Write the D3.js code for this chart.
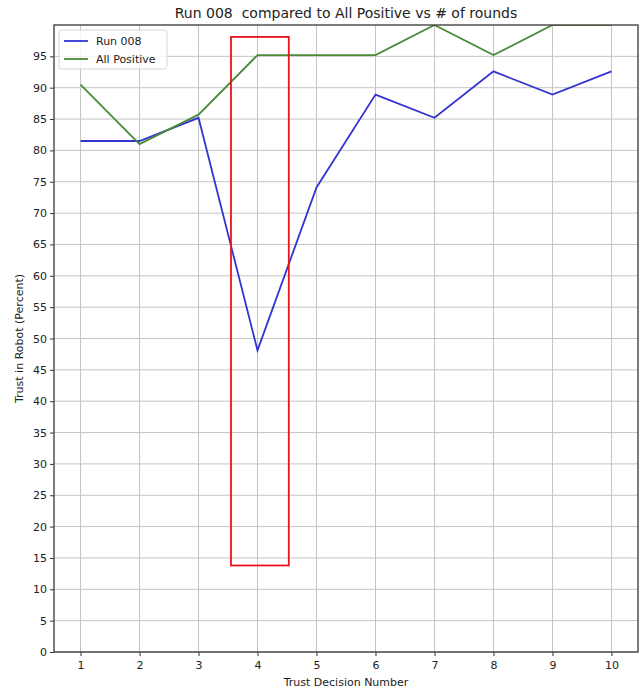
<!DOCTYPE html>
<html>
<head>
<meta charset="utf-8">
<script src="https://cdn.jsdelivr.net/npm/d3@7"></script>
<style>
  body { margin: 0; background: #fff; }
  text { font-family: "DejaVu Sans", sans-serif; fill: #222; }
</style>
</head>
<body>
<div id="container"></div>
<script>
// data
const rounds = [1, 2, 3, 4, 5, 6, 7, 8, 9, 10];
const run008 = [81.5, 81.5, 85.2, 48.1, 74.1, 88.9, 85.2, 92.6, 88.9, 92.6];
const allPositive = [90.5, 81.0, 85.7, 95.2, 95.2, 95.2, 100, 95.2, 100, 100];
const yTicks = d3.range(0, 100, 5);
// highlighted region [x0, x1, y0, y1]
const highlight = [3.55, 4.53, 13.8, 98.1];

const width = 641, height = 692;
const marginTop = 25, marginRight = 3, marginBottom = 40, marginLeft = 54;

const x = d3.scaleLinear().domain([0.55, 10.45]).range([marginLeft, width - marginRight]);
const y = d3.scaleLinear().domain([0, 100]).range([height - marginBottom, marginTop]);

const svg = d3.create("svg")
    .attr("width", width)
    .attr("height", height)
    .attr("viewBox", [0, 0, width, height]);

// grid
svg.append("g")
  .selectAll("line")
  .data(rounds)
  .join("line")
    .attr("x1", d => x(d)).attr("x2", d => x(d))
    .attr("y1", marginTop).attr("y2", height - marginBottom)
    .attr("stroke", "#c4c4c4").attr("stroke-width", 1);

svg.append("g")
  .selectAll("line")
  .data(yTicks)
  .join("line")
    .attr("x1", marginLeft).attr("x2", width - marginRight)
    .attr("y1", d => y(d)).attr("y2", d => y(d))
    .attr("stroke", "#c4c4c4").attr("stroke-width", 1);

// axes
const xAxis = svg.append("g")
    .attr("transform", `translate(0,${height - marginBottom})`)
    .call(d3.axisBottom(x).tickValues(rounds).tickFormat(d3.format("d")).tickSize(4).tickSizeOuter(0));
const yAxis = svg.append("g")
    .attr("transform", `translate(${marginLeft},0)`)
    .call(d3.axisLeft(y).tickValues(yTicks).tickSize(4).tickSizeOuter(0));
[xAxis, yAxis].forEach(g => {
  g.select(".domain").remove();
  g.selectAll("line").attr("stroke", "#333");
  g.selectAll("text").attr("font-size", 11).attr("fill", "#222")
    .attr("font-family", "DejaVu Sans, sans-serif");
});
xAxis.selectAll("text").attr("dy", "0.9em");

// lines
svg.append("clipPath").attr("id", "plot")
  .append("rect")
    .attr("x", marginLeft).attr("y", marginTop)
    .attr("width", width - marginLeft - marginRight)
    .attr("height", height - marginTop - marginBottom);

const line = d3.line().x((d, i) => x(rounds[i])).y(d => y(d));

const series = [
  {name: "Run 008", values: run008, color: "#3333d4"},
  {name: "All Positive", values: allPositive, color: "#4a8a38"}
];

svg.append("g").attr("clip-path", "url(#plot)")
  .selectAll("path")
  .data(series)
  .join("path")
    .attr("d", d => line(d.values))
    .attr("fill", "none")
    .attr("stroke", d => d.color)
    .attr("stroke-width", 1.8);

// frame
svg.append("rect")
    .attr("x", marginLeft).attr("y", marginTop)
    .attr("width", width - marginLeft - marginRight)
    .attr("height", height - marginTop - marginBottom)
    .attr("fill", "none").attr("stroke", "#444").attr("stroke-width", 1.4);

// red box
svg.append("rect")
    .attr("x", x(highlight[0]))
    .attr("y", y(highlight[3]))
    .attr("width", x(highlight[1]) - x(highlight[0]))
    .attr("height", y(highlight[2]) - y(highlight[3]))
    .attr("fill", "none").attr("stroke", "#e8141c").attr("stroke-width", 1.8);

// legend
const legend = svg.append("g").attr("transform", `translate(${marginLeft + 5},${marginTop + 5})`);
legend.append("rect")
    .attr("width", 108).attr("height", 39).attr("rx", 3)
    .attr("fill", "white").attr("fill-opacity", 0.8)
    .attr("stroke", "#d6d6d6");
series.forEach((s, i) => {
  const yy = 11 + i * 18;
  legend.append("line")
      .attr("x1", 5).attr("x2", 29).attr("y1", yy).attr("y2", yy)
      .attr("stroke", s.color).attr("stroke-width", 1.8);
  legend.append("text")
      .attr("x", 37).attr("y", yy).attr("dy", "0.35em")
      .attr("font-size", 11).text(s.name);
});

// titles
svg.append("text")
    .attr("x", (marginLeft + width - marginRight) / 2).attr("y", 18)
    .attr("text-anchor", "middle").attr("font-size", 14)
    .style("white-space", "pre")
    .text("Run 008  compared to All Positive vs # of rounds");
svg.append("text")
    .attr("x", (marginLeft + width - marginRight) / 2).attr("y", 686)
    .attr("text-anchor", "middle").attr("font-size", 11)
    .text("Trust Decision Number");
svg.append("text")
    .attr("transform", `translate(23,${(marginTop + height - marginBottom) / 2}) rotate(-90)`)
    .attr("text-anchor", "middle").attr("font-size", 11)
    .text("Trust in Robot (Percent)");

document.getElementById("container").append(svg.node());
</script>
</body>
</html>
